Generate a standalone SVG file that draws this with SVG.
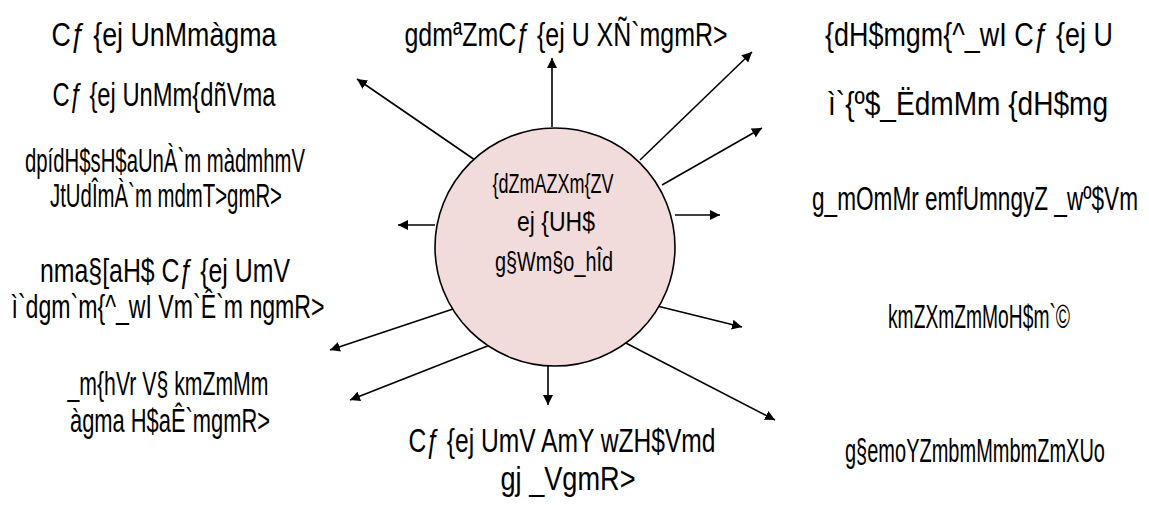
<svg xmlns="http://www.w3.org/2000/svg" width="1149" height="505" viewBox="0 0 1149 505">
<defs>
<marker id="ah" viewBox="0 0 10 10" refX="10" refY="5" markerWidth="10" markerHeight="10" markerUnits="userSpaceOnUse" orient="auto">
<path d="M0,0 L10,5 L0,10 z" fill="#000"/>
</marker>
<style>
text{font-family:"Liberation Sans Narrow","Liberation Sans",Arial,sans-serif;font-size:33px;fill:#000;text-anchor:middle}
.c{font-size:27px}
.e line{stroke:#000;stroke-width:1.6;marker-end:url(#ah)}
</style>
</defs>
<rect width="1149" height="505" fill="#fff"/>
<g id="connectors" class="e">
<line x1="552" y1="127" x2="552" y2="58"/>
<line x1="640" y1="160" x2="752" y2="52"/>
<line x1="475" y1="160" x2="357" y2="79"/>
<line x1="662" y1="185" x2="762" y2="128"/>
<line x1="675" y1="215" x2="720" y2="215"/>
<line x1="435" y1="225" x2="398" y2="225"/>
<line x1="645" y1="303" x2="742" y2="327"/>
<line x1="620" y1="340" x2="775" y2="420"/>
<line x1="548" y1="366" x2="548" y2="405"/>
<line x1="465" y1="305" x2="330" y2="350"/>
<line x1="490" y1="345" x2="350" y2="400"/>
</g>
<g id="center">
<ellipse cx="555" cy="247" rx="120" ry="119" fill="#f2dcdb" stroke="#000" stroke-width="1.6"/>
<text class="c" x="553" y="193" textLength="121" lengthAdjust="spacingAndGlyphs">{dZmAZXm{ZV</text>
<text class="c" x="556" y="231" textLength="78" lengthAdjust="spacingAndGlyphs">ej {UH$</text>
<text class="c" x="554" y="271" textLength="118" lengthAdjust="spacingAndGlyphs">g§Wm§o_hÎd</text>
</g>
<g id="n1"><text x="164" y="46" textLength="225" lengthAdjust="spacingAndGlyphs">Cƒ {ej UnMmàgma</text></g>
<g id="n2"><text x="164" y="106" textLength="223" lengthAdjust="spacingAndGlyphs">Cƒ {ej UnMm{dñVma</text></g>
<g id="n3"><text x="165" y="172" textLength="280" lengthAdjust="spacingAndGlyphs">dpídH$sH$aUnÀ`m màdmhmV</text>
<text x="166" y="207" textLength="232" lengthAdjust="spacingAndGlyphs">JtUdÎmÀ`m mdmT&gt;gmR&gt;</text></g>
<g id="n4"><text x="165" y="282" textLength="250" lengthAdjust="spacingAndGlyphs">nma§[aH$ Cƒ {ej UmV</text>
<text x="168" y="318" textLength="313" lengthAdjust="spacingAndGlyphs">ì`dgm`m{^_wI Vm`Ê`m ngmR&gt;</text></g>
<g id="n5"><text x="168" y="395" textLength="201" lengthAdjust="spacingAndGlyphs">_m{hVr V§ kmZmMm</text>
<text x="170" y="432" textLength="200" lengthAdjust="spacingAndGlyphs">àgma H$aÊ`mgmR&gt;</text></g>
<g id="n6"><text x="566" y="46" textLength="323" lengthAdjust="spacingAndGlyphs">gdmªZmCƒ {ej U XÑ`mgmR&gt;</text></g>
<g id="n7"><text x="969" y="46" textLength="288" lengthAdjust="spacingAndGlyphs">{dH$mgm{^_wI Cƒ {ej U</text></g>
<g id="n8"><text x="968" y="115" textLength="280" lengthAdjust="spacingAndGlyphs">ì`{º$_ËdmMm {dH$mg</text></g>
<g id="n9"><text x="975" y="210" textLength="326" lengthAdjust="spacingAndGlyphs">g_mOmMr emfUmngyZ _wº$Vm</text></g>
<g id="n10"><text x="979" y="328" textLength="182" lengthAdjust="spacingAndGlyphs">kmZXmZmMoH$m`©</text></g>
<g id="n11"><text x="975" y="462" textLength="260" lengthAdjust="spacingAndGlyphs">g§emoYZmbmMmbmZmXUo</text></g>
<g id="n12"><text x="562" y="452" textLength="307" lengthAdjust="spacingAndGlyphs">Cƒ {ej UmV AmY wZH$Vmd</text>
<text x="568" y="490" textLength="135" lengthAdjust="spacingAndGlyphs">gj _VgmR&gt;</text></g>
</svg>
